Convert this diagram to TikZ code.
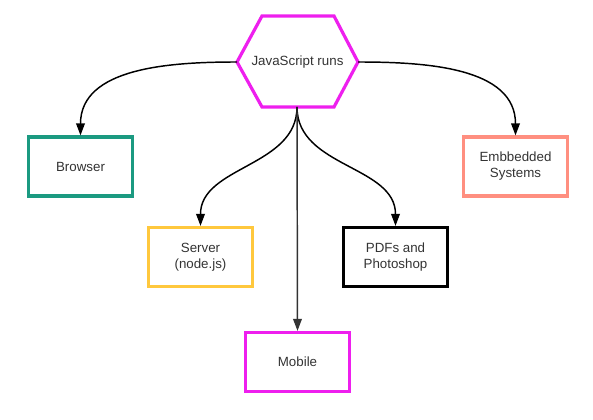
\documentclass[tikz,border=0pt]{standalone}
\usepackage{fontspec}
\setmainfont{Liberation Sans}
\usetikzlibrary{arrows.meta}
\definecolor{teal1}{HTML}{1B9A81}
\definecolor{yel1}{HTML}{FFC83D}
\definecolor{mag1}{HTML}{EE1FEE}
\definecolor{salm1}{HTML}{FF8F80}
\definecolor{txt}{HTML}{333333}
\begin{document}
\begin{tikzpicture}[x=0.75pt,y=-0.75pt,
  box/.style={draw, line width=2.4pt, minimum width=104*0.75pt, minimum height=59*0.75pt,
    align=center, font=\fontsize{10}{12}\selectfont, text=txt, inner sep=0pt},
  arr/.style={draw=black, line width=1.1pt, -{Triangle[length=9pt,width=6.5pt]}}]
\useasboundingbox (0,0) rectangle (593,420);
% hexagon
\coordinate (jsL) at (237,62);
\coordinate (jsR) at (358,62);
\coordinate (jsB) at (297,107);
\draw[mag1, line width=2.4pt, line join=miter] (262,16) -- (334,16) -- (jsR) -- (334,107) -- (262,107) -- (jsL) -- cycle;
\node[font=\fontsize{10}{12}\selectfont, text=txt] (js) at (297.5,62) {JavaScript runs};
% boxes
\node[box, draw=teal1] (browser) at (80.5,166.5) {Browser};
\node[box, draw=salm1] (emb) at (515.5,166.5) {Embbedded\\Systems};
\node[box, draw=yel1] (server) at (200.5,257) {Server\\(node.js)};
\node[box, draw=black] (pdf) at (395.5,257) {PDFs and\\Photoshop};
\node[box, draw=mag1] (mobile) at (297.5,362) {Mobile};
% connectors
\draw[arr] (jsL) to[out=180,in=90] (browser.north);
\draw[arr] (jsR) to[out=0,in=90] (emb.north);
\draw[arr] (jsB) to[out=-90,in=90] (server.north);
\draw[arr] (jsB) to[out=-90,in=90] (pdf.north);
\draw[arr, draw=txt] (jsB) -- (mobile.north);
\end{tikzpicture}
\end{document}
